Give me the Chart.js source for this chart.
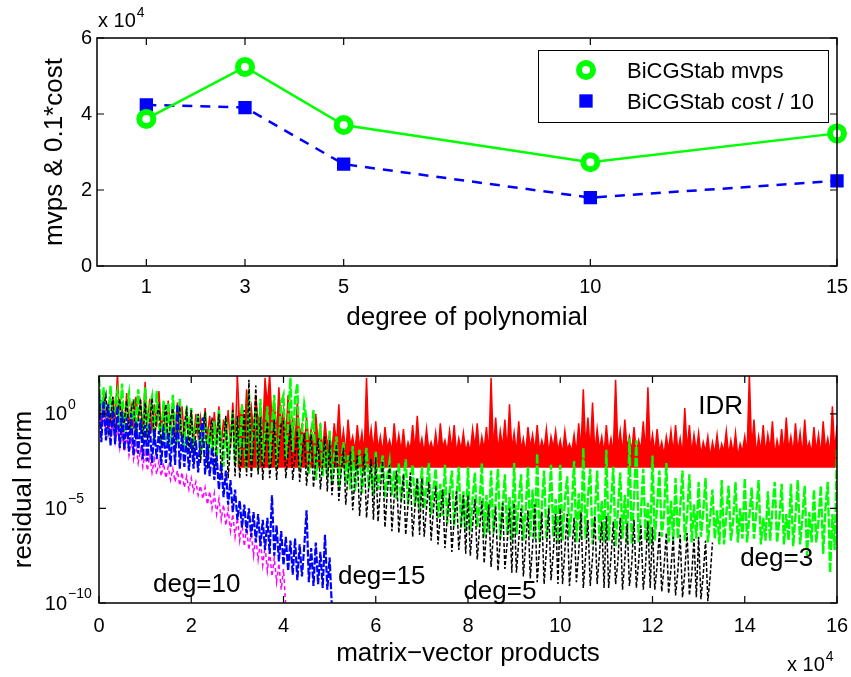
<!DOCTYPE html>
<html>
<head>
<meta charset="utf-8">
<script src="https://cdn.jsdelivr.net/npm/chart.js@4.4.1/dist/chart.umd.min.js"></script>
<style>
  html, body { margin: 0; padding: 0; background: #fff; }
  #wrap { position: relative; width: 851px; height: 677px; overflow: hidden; }
  #wrap canvas { position: absolute; left: 0; }
</style>
</head>
<body>
<div id="wrap">
  <canvas id="topChart" width="851" height="340" style="top:0;width:851px;height:340px"></canvas>
  <canvas id="bottomChart" width="851" height="337" style="top:340px;width:851px;height:337px"></canvas>
</div>
<script>
// ---- top panel: cost against polynomial degree ----
const degrees = [1, 3, 5, 10, 15];
const mvps = [38700, 52400, 37100, 27300, 34900];
const costTenth = [42400, 41700, 26800, 18000, 22400];
const topYTicks = [0, 20000, 40000, 60000];

// ---- bottom panel: log10(residual norm), one value every <step> mvps ----
const idrStep = 500;
const idrFloor = -2.85;
const idrLog = [
  0.8, -0.5, 1.0, -0.2, 0.5, -0.6, 0.9, -0.3, 2.1, -0.4,
  0.3, -0.7, 1.1, -0.5, 0.4, -0.8, 0.9, -0.2, 0.6, -0.9,
  1.7, -0.6, 0.8, -1.0, 0.5, -0.7, 1.2, -0.9, 0.3, -1.1,
  0.7, -0.8, 0.2, -1.2, 0.6, -1.0, 0.4, -1.3, 0.1, -1.1,
  0.2, -1.4, 0.0, -1.2, -0.2, -1.5, 0.3, -1.3, -0.1, -1.6,
  0.1, -1.4, 0.4, -1.7, -0.3, -1.5, 0.2, -1.8, 0.6, -1.6,
  2.0, -0.6, 0.5, -1.2, 1.3, -0.3, 0.4, -1.0, 1.0, -0.5,
  0.2, -0.9, 1.9, 0.4, 2.1, -0.4, 0.7, -1.1, 1.4, -0.6,
  0.2, -1.3, 1.0, -0.7, -0.3, -1.5, 0.6, -1.2, -0.6, -1.8,
  -0.2, -1.6, -0.8, -1.9, 0.0, -1.5, -0.7, -2.0, -0.4, -1.7,
  -1.1, -2.0, -0.5, -1.6, 0.5, -1.8, -0.9, -2.1, -0.3, -1.7,
  -1.2, -2.0, -0.6, -1.8, -1.0, -2.1, 1.9, -1.7, -0.8, -2.0,
  -0.4, -1.9, -1.2, -2.1, -0.7, -1.8, -1.4, -2.0, -0.5, -1.9,
  -1.1, -2.0, -0.8, -2.1, -1.5, -1.9, -0.6, -2.0, -0.1, -1.9,
  -1.3, -2.1, -0.8, -1.9, -1.5, -2.0, -1.0, -2.1, -0.5, -1.8,
  -1.4, -2.0, -0.9, -1.9, -0.6, -2.1, -1.3, -1.9, -1.0, -2.0,
  -1.5, -2.0, -0.8, -1.8, -0.5, -2.1, -1.2, -1.9, -0.7, -2.1,
  1.9, -1.9, -0.2, -2.0, -0.9, -1.8, -0.3, -2.0, 0.5, -1.9,
  -1.0, -2.1, -0.4, -1.9, -1.3, -2.1, -0.7, -1.8, -1.1, -2.0,
  -0.6, -2.0, -1.4, -1.9, -0.8, -2.1, -1.2, -1.8, -0.9, -2.0,
  -1.4, -2.1, -0.9, -1.9, -1.6, -2.0, -1.1, -2.1, -0.5, -1.9,
  1.3, -1.8, -0.2, -2.0, 0.6, -2.1, -0.8, -1.9, -1.2, -2.1,
  -0.6, -2.0, -1.3, -2.1, 1.8, -1.9, -0.9, -2.1, -0.3, -1.8,
  -1.2, -2.0, -0.7, -2.1, -1.4, -1.9, -0.4, -2.1, 1.4, -1.9,
  -1.1, -2.1, -0.8, -2.0, -1.5, -2.2, -1.2, -1.9, -0.9, -2.1,
  -0.6, -2.0, -1.3, -2.2, 0.3, -1.9, -0.6, -2.1, -1.1, -2.0,
  -1.0, -2.2, -1.5, -2.0, -1.2, -2.3, -1.5, -2.1, -1.1, -2.2,
  -1.6, -2.0, -0.9, -2.2, -1.4, -2.1, -1.0, -2.3, -1.6, -2.0,
  -1.2, -2.1, 2.1, -1.9, -0.3, -2.2, -1.2, -2.0, -0.6, -2.1,
  -1.1, -1.9, -0.4, -2.2, -1.4, -2.0, -0.8, -2.1, -0.2, -1.9,
  -1.2, -2.1, -0.5, -2.0, -1.0, -2.2, -0.3, -1.9, -1.5, -2.1,
  -0.7, -2.0, -1.1, -2.2, -0.4, -1.9, -1.3, -2.1, 0.4, -2.0,
  -0.6
];
const idrFilledFrom = 60; // from 3e4 on the IDR curve sits on its floor
const deg3Step = 500;
const deg3Log = [
  1.9, -0.3, 1.4, 0.2, -0.6, 1.5, -0.8, 0.6, 1.2, -0.7,
  1.6, -1.0, 0.4, 1.1, -0.9, 0.8, -1.1, 1.3, -0.4, -1.2,
  1.4, -1.2, 0.3, 0.9, -1.5, 1.2, -0.6, -1.3, 0.7, -1.4,
  0.6, -1.7, 1.0, -0.5, -1.6, 0.8, -1.2, -1.7, 0.4, -1.5,
  0.3, -2.0, -0.6, 0.0, -2.3, -1.1, 0.1, -2.5, -0.8, -2.1,
  -0.4, -2.6, 0.2, -1.5, -2.8, -0.2, -2.4, -1.0, 0.1, -2.7,
  -0.2, -2.7, 0.5, -1.8, -2.9, 1.2, -2.5, -0.9, 0.3, -3.0,
  0.8, -2.6, -1.2, 0.4, -2.8, -0.6, 1.0, -2.9, -1.5, 0.6,
  1.0, -2.4, -0.5, 1.9, -2.0, 0.8, 1.6, -2.9, -1.0, 0.5,
  -0.3, -3.2, -1.4, 0.2, -3.5, -2.0, -0.5, -3.3, -1.6, -3.4,
  -0.9, -3.6, -2.1, -1.2, -3.9, -2.6, -1.5, -3.7, -2.2, -4.0,
  -1.7, -4.1, -2.8, -1.9, -4.2, -3.0, -1.8, -3.9, -2.7, -4.3,
  -2.0, -4.0, -3.1, -2.2, -4.4, -3.3, -2.5, -4.3, -3.0, -4.5,
  -2.6, -4.6, -3.5, -2.4, -4.8, -3.6, -2.7, -4.9, -3.4, -5.1,
  -2.8, -5.0, -3.8, -2.6, -5.3, -4.0, -2.9, -5.5, -3.7, -5.4,
  -2.7, -5.8, -4.2, -3.0, -5.9, -4.4, -2.8, -6.0, -4.1, -6.2,
  -2.8, -6.2, -4.5, -3.1, -6.0, -4.8, -2.6, -6.5, -4.3, -6.3,
  -3.0, -6.3, -4.6, -2.9, -6.6, -5.0, -3.2, -6.4, -4.4, -6.7,
  -2.6, -6.4, -4.7, -3.2, -6.7, -5.1, -2.8, -6.5, -4.0, -6.6,
  -2.1, -6.8, -4.9, -3.0, -6.6, -5.2, -2.7, -6.5, -4.5, -6.8,
  -2.7, -6.7, -4.6, -3.3, -6.5, -5.0, -2.5, -6.8, -4.2, -6.6,
  -1.8, -6.6, -4.4, -2.9, -6.9, -5.3, -3.0, -6.7, -4.6, -6.8,
  -1.9, -6.7, -4.8, -2.8, -7.0, -5.1, -3.1, -6.6, -4.3, -6.9,
  -1.3, -6.9, -4.5, -1.4, -6.8, -5.2, -2.9, -6.7, -4.7, -6.9,
  -2.2, -6.7, -4.9, -3.0, -6.5, -5.3, -2.6, -6.8, -4.6, -6.7,
  -3.4, -6.6, -5.0, -3.0, -6.7, -5.4, -3.2, -6.8, -4.8, -6.6,
  -3.6, -6.5, -5.2, -3.4, -6.8, -5.5, -4.0, -6.6, -5.1, -6.9,
  -3.5, -6.9, -5.3, -3.8, -6.7, -5.6, -3.6, -6.8, -5.0, -6.6,
  -3.4, -6.8, -5.4, -3.9, -6.6, -5.2, -3.5, -6.9, -5.5, -6.7,
  -4.1, -6.7, -5.1, -3.6, -6.8, -5.6, -3.7, -6.9, -5.3, -6.7,
  -3.7, -7.0, -5.4, -3.5, -6.9, -5.5, -3.8, -7.5, -5.2, -6.8,
  -4.0, -6.8, -5.6, -3.8, -7.4, -5.0, -3.6, -8.4, -5.3, -7.2,
  -1.9
];
const deg5Step = 500;
const deg5Log = [
  1.2, -0.8, 0.3, 1.0, -1.0, -0.2, 0.9, -1.1, 0.1, 0.8,
  -1.3, -0.3, 0.7, -1.2, 0.2, 0.6, -1.4, -0.4, 0.8, -1.5,
  0.6, -1.4, -0.5, 0.8, -1.5, -0.1, 0.4, -1.7, -0.6, 0.5,
  -1.8, -0.3, 0.3, -2.0, -0.8, 0.4, -1.9, -0.5, 0.2, -2.1,
  0.2, -2.3, -1.0, 0.0, -2.6, -1.2, 0.1, -2.9, -1.3, -0.2,
  -3.1, -1.5, 0.0, -3.3, -1.4, -0.1, -3.4, -1.7, 0.2, -3.3,
  -0.1, -3.4, -1.8, 0.2, -3.3, 1.8, -3.4, -1.6, 1.5, -3.2,
  -0.2, -3.5, -1.9, -0.4, -3.4, -2.0, -0.3, -3.5, -1.8, -0.5,
  -0.4, -3.4, -2.1, -0.6, -3.5, -2.2, -0.9, -3.6, -2.3, -1.0,
  -3.8, -2.4, -1.1, -3.9, -2.5, -1.3, -4.0, -2.6, -1.2, -4.1,
  -1.4, -4.3, -2.9, -1.6, -4.6, -3.1, -1.8, -4.8, -3.2, -2.0,
  -5.1, -3.4, -2.2, -5.4, -3.6, -2.1, -5.5, -3.8, -2.4, -5.6,
  -2.3, -5.7, -4.0, -2.5, -6.0, -4.2, -2.7, -6.2, -4.4, -3.0,
  -6.3, -4.6, -3.2, -6.4, -4.8, -3.1, -6.5, -4.9, -3.4, -6.4,
  -3.4, -6.5, -5.0, -3.6, -6.7, -5.1, -3.8, -6.9, -5.3, -4.0,
  -7.1, -5.5, -4.2, -7.3, -5.6, -4.1, -7.2, -5.8, -4.3, -7.4,
  -4.3, -7.5, -5.9, -4.5, -7.7, -6.1, -4.6, -7.9, -6.3, -4.8,
  -8.1, -6.4, -4.9, -8.3, -6.6, -4.7, -8.2, -6.8, -5.0, -8.4,
  -4.7, -8.4, -6.7, -5.0, -8.6, -6.9, -5.1, -8.7, -7.0, -4.8,
  -8.9, -7.1, -5.2, -9.0, -7.2, -5.0, -8.8, -7.3, -5.3, -9.0,
  -5.0, -9.0, -7.2, -5.3, -9.1, -7.4, -5.5, -8.9, -7.3, -5.2,
  -9.2, -7.5, -5.6, -9.1, -7.6, -5.4, -9.0, -7.4, -5.7, -9.2,
  -5.4, -9.2, -7.6, -5.7, -9.0, -7.8, -5.5, -9.3, -7.7, -5.8,
  -9.1, -7.9, -5.6, -9.2, -7.8, -5.9, -9.3, -8.0, -5.7, -9.2,
  -6.0, -9.3, -8.0, -6.2, -9.4, -8.1, -6.3, -9.5, -8.2, -6.5,
  -9.6, -8.3, -6.4, -9.7, -8.4, -6.3, -9.6, -8.5, -6.6, -9.7,
  -6.5, -9.8, -8.5, -6.7, -9.9, -8.6, -6.8
];
const deg10Step = 500;
const deg10Log = [
  0.9, -0.6, 0.3, -1.0, -0.1, -1.3, -0.4, -1.5, -0.7, -1.8,
  -0.9, -2.0, -1.1, -2.2, -1.4, -2.4, -1.6, -2.6, -1.9, -2.8,
  -2.1, -3.0, -2.2, -3.1, -2.4, -3.2, -2.5, -3.3, -2.6, -3.4,
  -2.8, -3.5, -2.9, -3.6, -3.0, -3.8, -3.1, -3.9, -3.3, -4.0,
  -3.4, -4.1, -3.6, -4.3, -3.8, -4.5, -3.9, -4.8, -4.1, -5.0,
  -4.2, -5.3, -4.5, -5.6, -4.8, -5.9, -5.0, -6.2, -5.3, -6.5,
  -5.5, -6.7, -5.8, -7.0, -6.0, -7.2, -6.2, -7.5, -6.5, -7.7,
  -6.7, -8.0, -7.0, -8.3, -7.3, -8.6, -7.6, -8.9, -7.9, -9.3,
  -8.2, -10.2
];
const deg15Step = 500;
const deg15Log = [
  1.0, -1.5, 0.7, -1.4, 0.5, -1.7, 0.2, -1.6, 0.4, -1.8,
  0.1, -1.9, -0.2, -2.0, 0.0, -2.2, -0.4, -2.1, -0.3, -2.4,
  -0.6, -2.5, -0.5, -2.6, -0.8, -2.4, -0.9, -2.7, -0.7, -2.6,
  -1.0, -2.8, -0.7, -2.7, 0.5, -2.9, -1.1, -2.8, -1.2, -3.0,
  -1.3, -2.9, -1.4, -3.1, -1.0, -0.2, -3.2, -1.6, -3.3, -1.8,
  -3.5, -2.2, -4.0, -2.6, -4.4, -3.0, -4.8, -3.5, -5.2, -4.0,
  -5.6, -4.6, -6.0, -4.8, -6.3, -5.0, -6.5, -5.2, -6.8, -5.3,
  -7.0, -5.6, -7.2, -5.5, -7.4, -4.3, -7.5, -5.9, -7.8, -6.2,
  -8.0, -6.5, -8.3, -6.7, -8.5, -6.6, -8.8, -6.9, -8.6, -7.0,
  -5.1, -8.9, -7.1, -9.1, -6.8, -9.0, -7.3, -9.2, -6.4, -9.3,
  -7.6, -10.3
];
const mvpTicks = [0, 20000, 40000, 60000, 80000, 100000, 120000, 140000, 160000];
const residualTicks = [1e-10, 1e-5, 1];

// curve annotations (x in mvps, y as log10 residual at the text baseline)
const noteText = ['IDR', 'deg=10', 'deg=15', 'deg=5', 'deg=3'];
const noteX = [129900, 11700, 51800, 79000, 139000];
const noteLog = [0.0, -9.42, -9.0, -9.79, -8.05];

const FONT = "'Liberation Sans', Arial, Helvetica, sans-serif";
const TICK_LEN = 7;

function toPoints(logs, step) {
  return logs.map((e, i) => ({ x: i * step, y: Math.pow(10, e) }));
}

// keep the plot box where it is: no extra room for the end tick labels
function noEdgePadding(s) {
  s.paddingLeft = 0; s.paddingRight = 0; s.paddingTop = 0; s.paddingBottom = 0;
}

// MATLAB style axes: full box with inward ticks on all four sides
const boxPlugin = {
  id: 'boxPlugin',
  afterDatasetsDraw(chart) {
    const { ctx, chartArea: a, scales } = chart;
    ctx.save();
    ctx.strokeStyle = '#000';
    ctx.lineWidth = 1.2;
    ctx.beginPath();
    scales.x.ticks.forEach(t => {
      const px = scales.x.getPixelForValue(t.value);
      ctx.moveTo(px, a.bottom); ctx.lineTo(px, a.bottom - TICK_LEN);
      ctx.moveTo(px, a.top); ctx.lineTo(px, a.top + TICK_LEN);
    });
    scales.y.ticks.forEach(t => {
      const py = scales.y.getPixelForValue(t.value);
      ctx.moveTo(a.left, py); ctx.lineTo(a.left + TICK_LEN, py);
      ctx.moveTo(a.right, py); ctx.lineTo(a.right - TICK_LEN, py);
    });
    ctx.stroke();
    ctx.lineWidth = 1.5;
    ctx.strokeRect(a.left, a.top, a.right - a.left, a.bottom - a.top);
    ctx.restore();
  }
};

function sciNote(ctx, x, baseline, exp) {
  ctx.save();
  ctx.fillStyle = '#000';
  ctx.textAlign = 'left';
  ctx.textBaseline = 'alphabetic';
  ctx.font = '20px ' + FONT;
  ctx.fillText('x 10', x, baseline);
  const w = ctx.measureText('x 10').width;
  ctx.font = '14px ' + FONT;
  ctx.fillText(String(exp), x + w + 1, baseline - 10);
  ctx.restore();
}

const topNotePlugin = {
  id: 'topNote',
  afterDraw(chart) {
    const a = chart.chartArea;
    sciNote(chart.ctx, a.left + 1, a.top - 11, 4);
  }
};

const legendPlugin = {
  id: 'boxLegend',
  afterDraw(chart) {
    const { ctx, chartArea: a } = chart;
    const w = 290, h = 72;
    const x0 = a.right - 9 - w, y0 = a.top + 12;
    ctx.save();
    ctx.fillStyle = '#fff';
    ctx.fillRect(x0, y0, w, h);
    ctx.strokeStyle = '#000';
    ctx.lineWidth = 1;
    ctx.strokeRect(x0 + 0.5, y0 + 0.5, w, h);
    chart.data.datasets.forEach((ds, i) => {
      const cy = y0 + 20 + i * 31;
      const mx = x0 + 48;
      if (ds.pointStyle === 'circle') {
        ctx.beginPath();
        ctx.arc(mx, cy, ds.pointRadius, 0, Math.PI * 2);
        ctx.fillStyle = ds.pointBackgroundColor;
        ctx.fill();
        ctx.lineWidth = ds.pointBorderWidth;
        ctx.strokeStyle = ds.pointBorderColor;
        ctx.stroke();
      } else {
        const s = ds.pointRadius * Math.SQRT1_2;
        ctx.fillStyle = ds.pointBackgroundColor;
        ctx.fillRect(mx - s, cy - s, 2 * s, 2 * s);
        ctx.lineWidth = ds.pointBorderWidth;
        ctx.strokeStyle = ds.pointBorderColor;
        ctx.strokeRect(mx - s, cy - s, 2 * s, 2 * s);
      }
      ctx.fillStyle = '#000';
      ctx.font = '22px ' + FONT;
      ctx.textAlign = 'left';
      ctx.textBaseline = 'middle';
      ctx.fillText(ds.label, x0 + 89, cy + 2);
    });
    ctx.restore();
  }
};

new Chart(document.getElementById('topChart'), {
  type: 'line',
  data: {
    datasets: [{
      label: 'BiCGStab mvps',
      data: degrees.map((d, i) => ({ x: d, y: mvps[i] })),
      borderColor: '#00ff00',
      borderWidth: 2.5,
      pointStyle: 'circle',
      pointRadius: 7,
      pointBorderWidth: 6,
      pointBackgroundColor: '#ffffff',
      pointBorderColor: '#00ff00',
      clip: false,
      order: 0
    }, {
      label: 'BiCGStab cost / 10',
      data: degrees.map((d, i) => ({ x: d, y: costTenth[i] })),
      borderColor: '#0000ff',
      borderWidth: 2.5,
      borderDash: [10, 8],
      pointStyle: 'rect',
      pointRadius: 8,
      pointBorderWidth: 2,
      pointBackgroundColor: '#0000ff',
      pointBorderColor: '#0000ff',
      clip: false,
      order: 1
    }]
  },
  options: {
    responsive: false,
    animation: false,
    layout: { padding: { top: 38, right: 14, left: 0, bottom: 0 } },
    plugins: { legend: { display: false }, tooltip: { enabled: false } },
    scales: {
      x: {
        type: 'linear', min: 0, max: 15,
        afterBuildTicks: s => { s.ticks = degrees.map(v => ({ value: v })); },
        afterFit: s => { s.height = 74; noEdgePadding(s); },
        grid: { display: false, drawTicks: false },
        border: { display: false },
        ticks: { color: '#000', font: { family: FONT, size: 20 }, padding: 9, maxRotation: 0,
                 callback: v => String(v) },
        title: { display: true, text: 'degree of polynomial', color: '#000',
                 font: { family: FONT, size: 26 }, padding: { top: 0, bottom: 7 } }
      },
      y: {
        type: 'linear', min: 0, max: 60000,
        afterBuildTicks: s => { s.ticks = topYTicks.map(v => ({ value: v })); },
        afterFit: s => { s.width = 97; noEdgePadding(s); },
        grid: { display: false, drawTicks: false },
        border: { display: false },
        ticks: { color: '#000', font: { family: FONT, size: 20 }, padding: 5,
                 callback: v => String(v / 10000) },
        title: { display: true, text: 'mvps & 0.1*cost', color: '#000',
                 font: { family: FONT, size: 26 }, padding: { top: 39, bottom: 0 } }
      }
    }
  },
  plugins: [boxPlugin, topNotePlugin, legendPlugin]
});

const bottomTextPlugin = {
  id: 'bottomText',
  afterDraw(chart) {
    const { ctx, chartArea: a, scales } = chart;
    ctx.save();
    ctx.fillStyle = '#000';
    // log tick labels 10^k
    scales.y.ticks.forEach(t => {
      const py = scales.y.getPixelForValue(t.value);
      const k = Math.round(Math.log10(t.value));
      ctx.font = '20px ' + FONT;
      ctx.textAlign = 'right';
      ctx.textBaseline = 'middle';
      ctx.fillText('10', a.left - 32, py + 1);
      ctx.font = '14px ' + FONT;
      ctx.textAlign = 'left';
      ctx.fillText(k === 0 ? '0' : '\u2212' + Math.abs(k), a.left - 31, py - 9);
    });
    // curve names
    ctx.font = '26px ' + FONT;
    ctx.textAlign = 'left';
    ctx.textBaseline = 'alphabetic';
    noteText.forEach((txt, i) => {
      ctx.fillText(txt, scales.x.getPixelForValue(noteX[i]),
                   scales.y.getPixelForValue(Math.pow(10, noteLog[i])));
    });
    ctx.restore();
    sciNote(ctx, a.right - 50, a.bottom + 68, 4);
  }
};

const idrPoints = toPoints(idrLog, idrStep);

new Chart(document.getElementById('bottomChart'), {
  type: 'line',
  data: {
    datasets: [{
      label: 'deg=15',
      data: toPoints(deg15Log, deg15Step),
      borderColor: '#0000ff', borderWidth: 2.2, borderDash: [7, 2],
      pointRadius: 0, tension: 0, clip: 0, order: 0
    }, {
      label: 'deg=10',
      data: toPoints(deg10Log, deg10Step),
      borderColor: '#ff00ff', borderWidth: 1.5, borderDash: [4, 3],
      pointRadius: 0, tension: 0, clip: 0, order: 1
    }, {
      label: 'deg=5',
      data: toPoints(deg5Log, deg5Step),
      borderColor: '#000000', borderWidth: 1.5, borderDash: [4, 2],
      pointRadius: 0, tension: 0, clip: 0, order: 2
    }, {
      label: 'deg=3',
      data: toPoints(deg3Log, deg3Step),
      borderColor: '#00ff00', borderWidth: 2.4, borderDash: [9, 2],
      pointRadius: 0, tension: 0, clip: 0, order: 3
    }, {
      label: 'IDR',
      data: idrPoints.slice(0, idrFilledFrom + 1),
      borderColor: '#ff0000', borderWidth: 1.5,
      pointRadius: 0, tension: 0, clip: 0, order: 4
    }, {
      label: 'IDR',
      data: idrPoints.slice(idrFilledFrom),
      borderColor: '#ff0000', borderWidth: 1.5,
      backgroundColor: '#ff0000',
      fill: { value: Math.pow(10, idrFloor) },
      pointRadius: 0, tension: 0, clip: 0, order: 5
    }]
  },
  options: {
    responsive: false,
    animation: false,
    layout: { padding: { top: 36, right: 14, left: 0, bottom: 0 } },
    plugins: { legend: { display: false }, tooltip: { enabled: false } },
    scales: {
      x: {
        type: 'linear', min: 0, max: 160000,
        afterBuildTicks: s => { s.ticks = mvpTicks.map(v => ({ value: v })); },
        afterFit: s => { s.height = 74; noEdgePadding(s); },
        grid: { display: false, drawTicks: false },
        border: { display: false },
        ticks: { color: '#000', font: { family: FONT, size: 20 }, padding: 11, maxRotation: 0,
                 callback: v => String(v / 10000) },
        title: { display: true, text: 'matrix\u2212vector products', color: '#000',
                 font: { family: FONT, size: 26 }, padding: { top: 0, bottom: 8 } }
      },
      y: {
        type: 'logarithmic', min: 1e-10, max: 100,
        afterBuildTicks: s => { s.ticks = residualTicks.map(v => ({ value: v })); },
        afterFit: s => { s.width = 99; noEdgePadding(s); },
        grid: { display: false, drawTicks: false },
        border: { display: false },
        ticks: { display: false },
        title: { display: true, text: 'residual norm', color: '#000',
                 font: { family: FONT, size: 26 }, padding: { top: 8, bottom: 0 } }
      }
    }
  },
  plugins: [boxPlugin, bottomTextPlugin]
});
</script>
</body>
</html>
